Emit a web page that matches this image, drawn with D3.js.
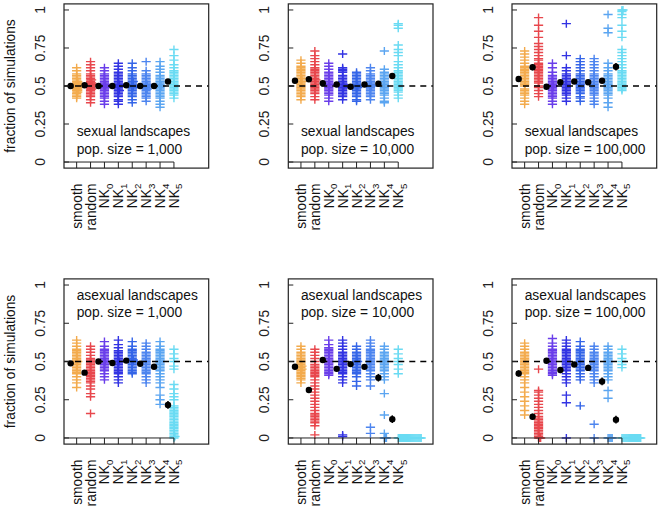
<!DOCTYPE html>
<html>
<head>
<meta charset="utf-8">
<script src="https://cdn.jsdelivr.net/npm/d3@7"></script>
<style>
body { margin: 0; background: #fff; }
text { font-family: "Liberation Sans", Arial, sans-serif; }
</style>
</head>
<body>
<div id="chart"></div>
<script>
// categories on the x axis (NK labels get a subscript)
const categories = ["smooth", "random", "NK0", "NK1", "NK2", "NK3", "NK4", "NK5"];
const colors = ["#f2a23a", "#e6343a", "#5a2ae8", "#1c1ee0", "#1f55e6", "#3a78ee", "#4a9cf0", "#5ad8f2"];
const yTicks = [0, 0.25, 0.5, 0.75, 1];

// fraction of simulations, in percent, one array per category
const sexual1k = [
  [42,43,44,45,46,46,47,47,48,48,49,49,50,50,50,51,51,52,52,53,53,54,55,56,57,58,60,62],
  [39,41,43,44,45,46,47,48,48,49,50,50,51,51,52,52,53,54,54,55,56,57,58,60,62,64,66],
  [38,40,42,43,44,45,46,47,48,49,49,50,50,51,51,52,53,54,55,56,57,58,60,62],
  [38,40,41,43,44,45,46,47,47,48,49,50,50,51,51,52,53,54,55,56,57,58,59,61,63,65],
  [39,41,43,44,45,46,47,48,49,49,50,50,51,52,53,53,54,55,56,57,58,60,62,65],
  [40,42,43,44,45,46,47,48,48,49,50,50,51,51,52,53,54,55,56,57,58,60,66],
  [36,38,40,42,43,44,45,46,47,48,49,50,50,51,52,53,54,55,56,57,59,61,63,66],
  [42,44,45,46,47,48,49,50,51,52,53,54,55,56,57,58,59,60,62,64,67,70,74]
];
const sexual10k = [
  [41,43,44,45,46,47,48,49,50,51,52,53,53,54,55,55,56,57,58,59,60,61,62,63,65,67],
  [41,43,45,46,47,48,49,50,51,52,53,54,54,55,56,57,58,59,60,61,62,64,66,68,70,73],
  [40,42,44,45,46,47,48,49,50,51,51,52,53,54,55,56,57,58,59,61,63,65],
  [41,43,44,45,46,47,48,49,49,50,51,51,52,53,54,55,56,57,59,60,61,62,71],
  [40,41,43,44,45,46,47,48,49,49,50,50,51,52,53,54,55,56,57,58,59],
  [41,43,44,45,46,47,48,49,50,50,51,52,53,54,55,56,57,58,60,62],
  [39,40,42,44,45,46,47,48,49,50,51,52,53,54,55,56,57,58,59,61,73],
  [42,44,46,47,48,49,50,51,52,53,54,55,56,57,58,59,60,62,64,66,70,72,74,77,88,90,91]
];
const sexual100k = [
  [38,40,42,44,45,46,47,48,50,51,52,53,54,55,56,57,58,59,60,61,62,63,65,67,69,71,73],
  [43,45,47,49,50,52,53,54,55,56,57,58,59,60,61,62,63,64,65,67,68,70,72,74,76,78,82,86,90,95],
  [38,40,42,43,44,45,46,47,48,49,50,50,51,52,53,54,55,56,57,59,62,65],
  [40,42,44,45,46,47,48,49,50,51,52,53,54,55,56,57,58,60,62,70,91],
  [40,42,43,45,46,47,48,49,50,51,52,53,54,55,56,57,58,60,62,64,66,68],
  [38,40,42,44,45,46,47,48,49,50,51,52,53,54,55,56,57,58,60,62,64,66,68],
  [36,39,42,44,45,46,47,48,49,50,51,52,53,54,55,56,57,58,60,62,65,85,88,97],
  [47,48,49,50,51,52,53,54,55,56,57,58,59,60,62,64,66,68,70,72,74,82,86,90,95,97,99,100,100]
];
const asexual1k = [
  [33,36,38,40,42,43,44,45,46,47,48,49,50,50,51,52,53,54,55,56,57,58,60,62,64],
  [16,27,29,32,34,36,37,38,39,40,41,42,43,44,45,46,47,48,49,50,51,52,54,56,58,60],
  [38,40,42,44,45,46,47,48,49,50,50,51,52,53,54,55,56,57,58,60,63],
  [36,38,40,42,43,44,45,46,47,48,49,50,50,51,52,53,54,55,56,57,59,61,64],
  [42,43,44,45,46,47,48,49,50,50,51,51,52,53,54,55,56,57,58,60,63],
  [36,38,40,42,43,44,45,46,47,48,49,50,51,52,53,54,55,56,58,60,62],
  [22,25,28,33,36,38,40,42,44,45,46,47,48,49,50,51,52,53,54,55,56,57,58,60,63],
  [58,55,52,50,47,45,35,32,29,27,25,21,20,19,18,17,16,15,14,13,12,11,10,9,8,7,6,5,4,3,2,1,1,0]
];
const asexual10k = [
  [36,38,39,40,41,42,43,44,45,45,46,47,47,48,49,50,51,52,53,54,55,56,58,60],
  [2,8,10,11,12,13,14,15,16,18,20,22,24,26,28,30,32,34,36,38,40,41,42,43,44,45,46,47,48,50,52,54,56,58],
  [41,42,43,44,45,46,47,48,49,50,51,52,53,54,55,56,57,58,59,61,64],
  [1,2,36,38,40,42,43,44,45,46,47,48,49,50,51,52,53,54,55,56,58,60,62,64],
  [34,37,40,42,43,44,45,46,47,48,49,50,50,51,52,53,54,55,56,58,60],
  [3,7,34,38,40,42,44,45,46,47,48,49,50,51,52,53,54,55,56,57,58,60,62,64],
  [0,0,0,3,15,29,38,40,42,44,45,46,47,48,49,50,51,52,53,54,55,56,58,60],
  [42,45,48,50,52,55,58,0,0,0,0,0,0,0,0,0,0,0,0,0,0,0,0,0,0,0,0,0,0,0]
];
const asexual100k = [
  [15,18,21,24,27,30,33,36,38,40,42,43,44,45,46,47,48,49,50,51,52,53,54,55,56,58,60,62],
  [0,0,0,1,2,3,4,5,6,7,8,9,10,11,12,13,14,16,18,20,22,24,26,28,30,31,45],
  [41,42,43,44,45,46,47,48,49,50,51,52,53,54,55,56,57,58,60,62,65],
  [0,23,28,36,38,40,42,44,45,46,47,48,49,50,51,52,53,54,55,56,57,58,60,62,64],
  [21,38,40,42,44,45,46,47,48,49,50,51,52,53,54,55,56,57,58,60,63],
  [0,9,36,38,40,42,44,45,46,47,48,49,50,51,52,53,54,55,56,58,60],
  [0,0,0,0,0,26,31,38,40,42,44,45,46,47,48,49,50,51,52,53,54,55,56,58,60],
  [46,48,50,52,55,58,0,0,0,0,0,0,0,0,0,0,0,0,0,0,0,0,0,0,0]
];

// mean and standard error per category (fraction)
const sexual1kMean = [0.50, 0.505, 0.50, 0.50, 0.505, 0.50, 0.50, 0.53];
const sexual10kMean = [0.535, 0.544, 0.518, 0.51, 0.495, 0.51, 0.515, 0.566];
const sexual100kMean = [0.546, 0.623, 0.495, 0.525, 0.53, 0.525, 0.535, 0.627];
const asexual1kMean = [0.488, 0.427, 0.50, 0.49, 0.506, 0.485, 0.466, 0.216];
const asexual10kMean = [0.466, 0.314, 0.51, 0.452, 0.483, 0.465, 0.394, 0.123];
const asexual100kMean = [0.422, 0.139, 0.505, 0.444, 0.48, 0.458, 0.37, 0.12];
const sexual1kSE = [0.01, 0.01, 0.01, 0.01, 0.01, 0.01, 0.01, 0.012];
const sexual10kSE = [0.01, 0.012, 0.01, 0.01, 0.01, 0.01, 0.01, 0.015];
const sexual100kSE = [0.012, 0.02, 0.01, 0.012, 0.01, 0.012, 0.015, 0.025];
const asexual1kSE = [0.012, 0.015, 0.01, 0.012, 0.01, 0.012, 0.015, 0.025];
const asexual10kSE = [0.01, 0.02, 0.01, 0.015, 0.012, 0.015, 0.025, 0.025];
const asexual100kSE = [0.02, 0.02, 0.01, 0.02, 0.015, 0.02, 0.025, 0.025];

const panels = [
  { kind: "sexual landscapes", size: "pop. size = 1,000", vals: sexual1k, mean: sexual1kMean, se: sexual1kSE },
  { kind: "sexual landscapes", size: "pop. size = 10,000", vals: sexual10k, mean: sexual10kMean, se: sexual10kSE },
  { kind: "sexual landscapes", size: "pop. size = 100,000", vals: sexual100k, mean: sexual100kMean, se: sexual100kSE },
  { kind: "asexual landscapes", size: "pop. size = 1,000", vals: asexual1k, mean: asexual1kMean, se: asexual1kSE },
  { kind: "asexual landscapes", size: "pop. size = 10,000", vals: asexual10k, mean: asexual10kMean, se: asexual10kSE },
  { kind: "asexual landscapes", size: "pop. size = 100,000", vals: asexual100k, mean: asexual100kMean, se: asexual100kSE }
];

const W = 661, H = 508;
const boxW = 144.7;
const colLeft = [64, 288.3, 512];
const rows = [
  { top: 3.9, bottom: 168.1, textY: [0.17, 0.05] },
  { top: 278.9, bottom: 444.1, textY: [0.905, 0.79] }
];
const stackOff = 0.075;   // horizontal step for tied values
const meanOff = -0.43;
const fs = 13.8;
const hw = 4.6, hh = 4;   // plus marker half width / half height

const svg = d3.select("#chart")
  .append("svg")
  .attr("width", W)
  .attr("height", H)
  .style("background", "#fff");

panels.forEach((p, pi) => {
  const left = colLeft[pi % 3];
  const row = rows[Math.floor(pi / 3)];

  const x = d3.scaleLinear().domain([0.09, 10.5]).range([left, left + boxW]);
  const y = d3.scaleLinear().domain([-0.04, 1.04]).range([row.bottom, row.top]);

  const g = svg.append("g");

  // points, tied values stacked to the right
  p.vals.forEach((vals, ci) => {
    const seen = new Map();
    const pts = vals.map(v => {
      const k = seen.get(v) || 0;
      seen.set(v, k + 1);
      return { x: x(ci + 1 + k * stackOff), y: y(v / 100) };
    });
    g.append("g")
      .attr("stroke", colors[ci])
      .attr("stroke-width", 1.4)
      .attr("opacity", 0.9)
      .selectAll("path")
      .data(pts)
      .join("path")
        .attr("d", d => `M${d.x - hw},${d.y}H${d.x + hw}M${d.x},${d.y - hh}V${d.y + hh}`);
  });

  // reference line at 0.5
  g.append("line")
    .attr("x1", left).attr("x2", left + boxW)
    .attr("y1", y(0.5)).attr("y2", y(0.5))
    .attr("stroke", "#000")
    .attr("stroke-width", 1.4)
    .attr("stroke-dasharray", "6,5");

  // means with error bars
  const mg = g.append("g");
  mg.selectAll("line")
    .data(p.mean)
    .join("line")
      .attr("x1", (d, i) => x(i + 1 + meanOff))
      .attr("x2", (d, i) => x(i + 1 + meanOff))
      .attr("y1", (d, i) => y(d - p.se[i]))
      .attr("y2", (d, i) => y(d + p.se[i]))
      .attr("stroke", "#000")
      .attr("stroke-width", 1.5);
  mg.selectAll("circle")
    .data(p.mean)
    .join("circle")
      .attr("cx", (d, i) => x(i + 1 + meanOff))
      .attr("cy", d => y(d))
      .attr("r", 3.2)
      .attr("fill", "#000");

  // box
  g.append("rect")
    .attr("x", left).attr("y", row.top)
    .attr("width", boxW).attr("height", row.bottom - row.top)
    .attr("fill", "none")
    .attr("stroke", "#222")
    .attr("stroke-width", 1.2);

  // y axis: ticks inward, rotated labels
  g.append("g").selectAll("line")
    .data(yTicks)
    .join("line")
      .attr("x1", left).attr("x2", left + 5)
      .attr("y1", d => y(d)).attr("y2", d => y(d))
      .attr("stroke", "#222");
  g.append("g").selectAll("text")
    .data(yTicks)
    .join("text")
      .attr("transform", d => `translate(${left - 19},${y(d)}) rotate(-90)`)
      .attr("text-anchor", "middle")
      .attr("font-size", fs)
      .attr("fill", "#222")
      .text(d => d);

  // x axis drawn at y = 0
  g.append("line")
    .attr("x1", left).attr("x2", x(categories.length))
    .attr("y1", y(0)).attr("y2", y(0))
    .attr("stroke", "#222");
  g.append("g").selectAll("line")
    .data(categories)
    .join("line")
      .attr("x1", (d, i) => x(i + 1)).attr("x2", (d, i) => x(i + 1))
      .attr("y1", y(0)).attr("y2", row.bottom)
      .attr("stroke", "#222");

  const xl = g.append("g").selectAll("text")
    .data(categories)
    .join("text")
      .attr("transform", (d, i) => `translate(${x(i + 1) + 5},${row.bottom + 15.5}) rotate(-90)`)
      .attr("text-anchor", "end")
      .attr("font-size", fs)
      .attr("fill", "#111");
  xl.append("tspan").text(d => d.startsWith("NK") ? "NK" : d);
  xl.filter(d => d.startsWith("NK"))
    .append("tspan")
      .attr("font-size", fs * 0.7)
      .attr("dy", 3.5)
      .text(d => d.slice(2));

  // panel text
  g.append("text")
    .attr("x", x(1)).attr("y", y(row.textY[0]))
    .attr("font-size", fs)
    .attr("fill", "#111")
    .text(p.kind);
  g.append("text")
    .attr("x", x(1)).attr("y", y(row.textY[1]))
    .attr("font-size", fs)
    .attr("fill", "#111")
    .text(p.size);

  if (pi % 3 === 0) {
    svg.append("text")
      .attr("transform", `translate(15,${y(0.5)}) rotate(-90)`)
      .attr("text-anchor", "middle")
      .attr("font-size", fs)
      .attr("fill", "#111")
      .text("fraction of simulations");
  }
});
</script>
</body>
</html>
